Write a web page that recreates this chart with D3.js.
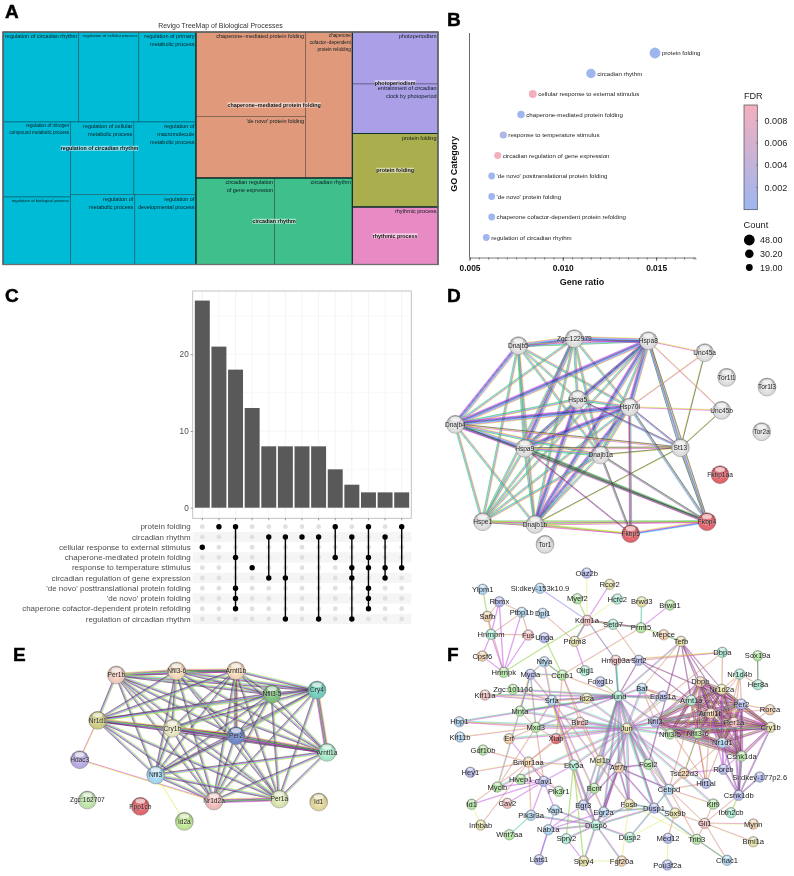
<!DOCTYPE html>
<html><head><meta charset="utf-8">
<script src="https://cdn.jsdelivr.net/npm/d3@7"></script>
<style>
html,body{margin:0;padding:0;background:#fff}
svg{display:block;filter:blur(0.3px)}
text{font-family:"Liberation Sans",Arial,sans-serif}
</style></head><body>
<script>
// ---------- A: treemap ----------
const tmTitle = "Revigo TreeMap of Biological Processes";
const tmLabels = ["regulation of circadian rhythm","regulation of cellular process","regulation of primary\nmetabolic process","regulation of nitrogen\ncompound metabolic process","regulation of biological process","regulation of cellular\nmetabolic process","regulation of\nmacromolecule\nmetabolic process","regulation of\nmetabolic process","regulation of\ndevelopmental process","chaperone\u2212mediated protein folding","'de novo' protein folding","chaperone\ncofactor\u2212dependent\nprotein refolding","circadian regulation\nof gene expression","circadian rhythm","photoperiodism","entrainment of circadian\nclock by photoperiod","protein folding","rhythmic process"];
const tmAreas = [6795,5400,5130,5062,4556,4568,4495,4480,4270,9253,6734,6789,6790,6704,4446,4232,6284,4916];
const tmLeafGroup = [0,0,0,0,0,0,0,0,0,1,1,1,2,2,3,3,4,5];
const tmGroupLabels = ["regulation of circadian rhythm","chaperone\u2212mediated protein folding","circadian rhythm","photoperiodism","protein folding","rhythmic process"];
const tmGroupColors = ["#00BBD6","#E0997B","#3FBF8C","#ABA0E8","#ABAE4D","#E88AC4"];
const tmFontSizes = [5.5,4.3,5.5,4.6,4.2,5.5,5.5,5.5,5.5,5.5,5.5,4.65,5.5,5.5,5.5,5.5,5.5,5.5];
const tmNesting = ["h",["v",["h",0,1,2],["h",["v",3,4],["v",["h",5,6],["h",7,8]]]],["v",["h",["v",9,10],11],["h",12,13]],["v",["v",14,15],16,17]];
// ---------- B: dot plot ----------
const goTerms = ["protein folding","circadian rhythm","cellular response to external stimulus","chaperone-mediated protein folding","response to temperature stimulus","circadian regulation of gene expression","'de novo' posttranslational protein folding","'de novo' protein folding","chaperone cofactor-dependent protein refolding","regulation of circadian rhythm"];
const goRatio = [0.01494,0.01151,0.00839,0.00776,0.00681,0.00651,0.00619,0.00619,0.00619,0.0059];
const goCount = [48,37,26,23,21,20,19,19,19,19];
const goFdr = [0.0001,0.0003,0.0092,0.0002,0.0018,0.0093,0.0002,0.0002,0.0002,0.0003];
const ratioTicks = [0.005,0.010,0.015];
const fdrTicks = [0.002,0.004,0.006,0.008];
const countLegend = [48,30.2,19];
// ---------- C: upset ----------
const upsetSizes = [27,21,18,13,8,8,8,8,5,3,2,2,2];
const upsetSets = ["protein folding","circadian rhythm","cellular response to external stimulus","chaperone-mediated protein folding","response to temperature stimulus","circadian regulation of gene expression","'de novo' posttranslational protein folding","'de novo' protein folding","chaperone cofactor-dependent protein refolding","regulation of circadian rhythm"];
const upsetMembers = [[2],[0],[0,3,6,7,8],[4],[1,5],[1,5,9],[1],[1,9],[0,3],[1,4,5,9],[0,3,4,6,7,8],[1,4,5],[0,4]];
const upsetTicks = [0,10,20];
// ---------- D: network (graph units) ----------
const dNodes = [["Dnajb5",250,182],["Zgc:122979",418,161],["Hspa8",640,167],["Unc45a",809,203],["Tor1l1",875,277],["Tor1l3",996,306],["Hspa5",428,343],["Hsp70l",584,366],["Unc45b",860,376],["Dnajb4",61,418],["Tor2a",980,440],["Hspa9",269,490],["Dnajb1a",497,510],["St13",736,488],["Fkbp1aa",855,569],["Hspe1",143,710],["Dnajb1b",300,718],["Fkbp4",816,710],["Fkbp5",587,746],["Tor1",330,778]];
const dTints = "wwwwwwwwwwwwwwrwwrrw";
const dCore = ["Dnajb5","Zgc:122979","Hspa8","Hspa5","Hsp70l","Dnajb4","Hspa9","Dnajb1a","Hspe1","Dnajb1b"];
const dHeavy = [["Hspa8","Dnajb1b"],["Hspa8","Hspa9"],["Hspa8","Dnajb4"],["Hsp70l","Dnajb1b"],["Hsp70l","Hspa9"],["Hspa8","Zgc:122979"],["Zgc:122979","Hspa9"],["Hspa8","Hsp70l"],["Hspa5","Dnajb1b"],["Dnajb4","Hspa9"],["Hsp70l","Dnajb4"],["Dnajb5","Dnajb4"],["Zgc:122979","Dnajb5"]];
const dOther = [["St13","Hspa8","kcmg"],["St13","Hsp70l","cmk"],["St13","Hspa5","cmk"],["St13","Dnajb4","myk"],["St13","Hspa9","myk"],["St13","Dnajb1a","yk"],["St13","Dnajb1b","yk"],["St13","Unc45a","yk"],["St13","Unc45b","yk"],["St13","Fkbp4","cmgk"],["Fkbp4","Hspa8","cmyk"],["Fkbp4","Hsp70l","cmgk"],["Fkbp4","Hspa9","mgkkg"],["Fkbp4","Dnajb4","mgk"],["Fkbp4","Dnajb1a","mgk"],["Fkbp4","Dnajb1b","myg"],["Fkbp4","Fkbp5","cbmy"],["Fkbp4","Hspe1","myg"],["Fkbp5","Hsp70l","mkmg"],["Fkbp5","Hspa9","mk"],["Fkbp5","Dnajb1a","mgk"],["Fkbp5","Dnajb1b","mgy"],["Fkbp5","Hspe1","my"],["Unc45a","Hspa8","my"],["Unc45a","Hsp70l","my"],["Unc45b","Hspa8","my"],["Unc45b","Hsp70l","my"]];
// ---------- E: network ----------
const eNodes = [["Per1b",349,165],["Nfil3-6",530,153],["Arntl1b",708,152],["Cry4",951,210],["Nfil3-5",816,222],["Nr1d1",293,301],["Cry1b",517,325],["Per2",708,347],["Arntl1a",981,397],["Hdac3",239,419],["Nfil3",467,465],["Nr1d2a",642,543],["Per1a",838,537],["Id1",956,546],["Zgc:162707",262,540],["Ppp1cb",421,559],["Id2a",553,604]];
const eColors = ["#e8c4b8","#eacfb0","#eccfb0","#6fc5b5","#7ab87a","#c6c47f","#dcdcb8","#6f83c0","#9fe0c0","#b3a5dc","#9fcfe8","#e5b5b5","#cfdcaa","#d9d09a","#b8dca5","#d9646a","#b8de90"];
const eCore = ["Per1b","Nfil3-6","Arntl1b","Cry4","Nfil3-5","Nr1d1","Cry1b","Per2","Arntl1a","Nfil3","Nr1d2a","Per1a"];
const eHeavy = [["Per1b","Nfil3-6"],["Nfil3-6","Arntl1b"],["Cry1b","Per2"],["Per2","Arntl1a"],["Nr1d1","Per2"],["Arntl1b","Per2"],["Cry4","Arntl1a"],["Nr1d2a","Per1a"]];
const eOther = [["Hdac3","Nr1d1","my"],["Hdac3","Nr1d2a","my"],["Nfil3","Id2a","y"]];
// ---------- F: network ----------
const fNodes = [["Oaz2b",586.7,573],["Rcor2",609.7,584.3],["Ylpm1",482.7,589.3],["Si:dkey-153k10.9",540,588.3],["Myef2",577.3,598.7],["Hcfc2",617.3,599],["Brwd3",641.7,601.7],["Brwd1",670,605],["Rbmx",499.3,601.7],["Ptbp1b",521.7,612.3],["Dpl1",542.7,613.3],["Safb",487.3,616.3],["Kdm1a",587,620.3],["Setd7",613,624.3],["Prmt5",641,627.7],["Hnrnpm",491,634.3],["Fus",528.3,635],["Unga",544.3,637.7],["Mepce",663.7,634.7],["Prdm8",574.7,641.3],["Tefb",681,641.3],["Cpsf6",482.3,656],["Nfya",544.3,661.7],["Hmgb3a",615.7,660.3],["Sirt2",638.7,660.3],["Dbpa",722.3,652.3],["Sox19a",757.7,655.7],["Hnrnpk",503.7,672.3],["Olig1",585,670.7],["Mycla",530.3,674.3],["Ccnb1",562.3,675],["Nr1d4b",739.7,674],["Foxg1b",600.3,681.7],["Dbpb",700.3,681.7],["Her8a",758,684.7],["Klf11a",485,695],["Zgc:101100",513,689.3],["Baf",642,688.3],["Nr1d2a",721.7,689.3],["Epas1a",663,696],["Srfa",551.7,700.3],["Id2a",586.7,698.3],["Jund",618.3,696],["Arnt1a",691.3,700.3],["Per2",741.3,704],["Rorca",770,709.7],["Mnta",520,711],["Arntl1b",710.7,713.3],["Hbp1",459.3,721.7],["Birc2",580,722.3],["Nfil3",655,721.7],["Per1a",734,722.3],["Mxd3",535.7,727.3],["Jun",626.7,728.3],["Cry1b",770.7,727.3],["Nfil3-5",670,734],["Nfil3-6",697.7,733.3],["Klf11b",460,737],["Erf",509,738.7],["Xiap",556,738.7],["Nr1d1",722.3,742.7],["Gdf10b",483,750],["Csnk1da",741.7,756],["Mcl1b",600,760.7],["Bmpr1aa",528.3,762],["Fosl2",648.3,764.3],["Etv5a",573.7,765],["Atf7b",618.7,767.7],["Rorcb",723.3,769.3],["Hey1",470.3,772.3],["Tsc22d3",684,773],["Si:dkey-177p2.6",759.7,777],["Hivep1",520.7,779.3],["Cav1",543.7,781.3],["Hif1al",706,783.3],["Myclb",497.3,787],["Bcnf",594.3,788.3],["Cebpd",669,789.3],["Pik3r1",558.7,791.3],["Csnk1db",738.7,795.3],["Cav2",507.3,803.3],["Id1",471.7,804.3],["Egr3",583.3,805],["Fosb",629,804],["Klf9",713.3,804],["Dusp1",654,808],["Yap1",555,810],["Egr2a",603.7,812],["Sox9b",675,813],["Ibtn2cb",731,812.7],["Pik3r3a",531,815.3],["Gli1",704.7,823.3],["Mynn",753.3,824],["Inhbab",480.7,825],["Dusp6",596,825],["Nab1a",548.3,829.7],["Wnt7aa",509.3,834.7],["Spry2",566.3,838.7],["Dusp2",629.7,837.3],["Med12",668,838.3],["Trib3",696.7,839.3],["Bmi1a",753.3,841.7],["Lats1",539,859.7],["Spry4",583.7,861],["Fgf20a",621.7,861],["Chac1",727,860.3],["Pou3f2a",667.3,865]];
const fTints = ["iybbgtygib","boptgtpioy","yobpitggti","gtiotpgbyi","byttiogobp","ipgyyggbor","bggyogtoii","oigiiggbgi","pgiygibbyt","bpoytbgtti","gyiyobi"].join("");
const fCliques = [["Arnt1a","Arntl1b","Per2","Per1a","Cry1b","Nr1d1","Nr1d2a","Nfil3","Nfil3-5","Nfil3-6","Dbpb","Csnk1da"]];
const fHubs = [
["Jun","mpyc",["Jund","Fosl2","Fosb","Atf7b","Egr3","Egr2a","Dusp1","Mcl1b","Cebpd","Bcnf","Srfa","Id2a","Birc2","Xiap","Erf","Mxd3","Mnta","Hbp1","Arnt1a","Nfil3","Per2","Cry1b","Nr1d1","Epas1a","Baf","Etv5a","Sox9b","Hif1al","Klf9","Myclb"]],
["Jund","mpg",["Fosl2","Fosb","Atf7b","Egr3","Egr2a","Srfa","Id2a","Baf","Epas1a","Arnt1a","Nfil3","Hmgb3a","Tefb","Mnta","Hbp1","Klf11a","Zgc:101100","Bcnf","Mcl1b","Cebpd","Dusp1","Mxd3"]],
["Atf7b","mkp",["Fosl2","Fosb","Egr2a","Egr3","Mcl1b","Dusp1","Cebpd","Dusp6"]],
["Baf","my",["Nfil3","Tefb","Epas1a","Arnt1a","Arntl1b","Hif1al"]],
["Srfa","mpy",["Fosb","Egr3","Egr2a","Dusp6","Nfya","Mycla","Klf11a","Id2a","Etv5a","Zgc:101100","Mxd3"]],
["Mycla","cmy",["Nfya","Mnta","Mxd3","Myclb","Ccnb1"]],
["Mxd3","my",["Mnta","Hbp1","Erf","Myclb","Cav1","Xiap","Klf11b"]],
["Bmpr1aa","my",["Hey1","Id1","Inhbab","Cav1","Pik3r1","Pik3r3a","Etv5a","Xiap","Birc2","Gdf10b"]],
["Cav1","mp",["Id1","Myclb","Cav2","Pik3r1","Pik3r3a","Yap1","Hivep1","Erf","Etv5a"]],
["Dusp6","mpg",["Dusp1","Dusp2","Spry2","Spry4","Egr3","Egr2a","Nab1a","Etv5a","Fosb","Pik3r3a","Yap1","Fgf20a"]],
["Dusp1","cmg",["Dusp2","Fosb","Egr2a","Cebpd","Sox9b","Trib3"]],
["Cebpd","my",["Klf9","Gli1","Hif1al","Tsc22d3","Fosl2","Trib3","Dbpb","Nr1d1"]],
["Gli1","my",["Mynn","Bmi1a","Klf9","Sox9b","Chac1","Trib3","Csnk1db"]],
["Tefb","mk",["Dbpb","Nr1d2a","Arntl1b","Arnt1a","Per1a","Fosl2"]],
["Sirt2","mk",["Arnt1a","Per2","Hmgb3a","Jund"]],
["Ccnb1","my",["Mcl1b","Birc2","Xiap","Prmt5","Jund"]],
["Csnk1db","mpk",["Csnk1da","Per2","Per1a","Nr1d1","Cry1b","Si:dkey-177p2.6","Rorcb"]],
["Rorcb","mp",["Per2","Arntl1b","Nr1d1","Nr1d2a","Cry1b","Tsc22d3"]],
["Nr1d4b","my",["Her8a","Per2","Nr1d2a","Arntl1b","Nr1d1","Per1a"]],
["Rorca","my",["Per2","Arntl1b","Nr1d1"]],
["Hif1al","my",["Arntl1b","Arnt1a","Nr1d1","Nfil3-6"]],
["Dbpa","my",["Jun","Hmgb3a","Nr1d2a","Sirt2"]]
];
const fPairs = [["Ylpm1","Safb","gy"],["Rbmx","Safb","my"],["Rbmx","Ptbp1b","my"],["Rbmx","Hnrnpm","pm"],["Rbmx","Hnrnpk","pm"],["Ptbp1b","Hnrnpm","my"],["Ptbp1b","Fus","my"],["Ptbp1b","Hnrnpk","pm"],["Safb","Hnrnpm","my"],["Safb","Hnrnpk","my"],["Hnrnpm","Fus","my"],["Hnrnpm","Cpsf6","pm"],["Hnrnpm","Hnrnpk","pm"],["Fus","Hnrnpk","pm"],["Cpsf6","Hnrnpk","pm"],["Hnrnpk","Kdm1a","gy"],["Oaz2b","Kdm1a","y"],["Rcor2","Kdm1a","pm"],["Si:dkey-153k10.9","Kdm1a","cm"],["Myef2","Kdm1a","gy"],["Hcfc2","Kdm1a","y"],["Kdm1a","Setd7","kmg"],["Kdm1a","Prmt5","my"],["Kdm1a","Prdm8","mkg"],["Setd7","Prdm8","my"],["Setd7","Prmt5","kmg"],["Brwd3","Prmt5","cg"],["Brwd1","Prmt5","pm"],["Prmt5","Mepce","gy"],["Mepce","Tefb","kg"],["Dpl1","Prdm8","my"],["Prdm8","Olig1","pm"],["Unga","Ccnb1","gy"],["Nfya","Ccnb1","gk"],["Kdm1a","Hmgb3a","kp"],["Setd7","Sirt2","my"],["Hmgb3a","Jund","cg"],["Sox19a","Her8a","gk"],["Spry2","Spry4","mp"],["Spry4","Fgf20a","y"],["Spry4","Etv5a","gy"],["Spry2","Etv5a","gy"],["Lats1","Nab1a","mp"],["Nab1a","Egr3","mp"],["Nab1a","Egr2a","mp"],["Wnt7aa","Pik3r3a","cg"],["Yap1","Lats1","cm"],["Id1","Inhbab","y"],["Trib3","Chac1","gk"],["Med12","Pou3f2a","y"],["Med12","Sox9b","my"],["Foxg1b","Jund","gy"],["Birc2","Xiap","my"],["Birc2","Mcl1b","my"],["Trib3","Fosb","y"],["Tsc22d3","Nfil3-6","yk"],["Ibtn2cb","Csnk1db","gy"],["Fgf20a","Fosb","y"],["Dusp2","Sox9b","y"]];

const channelColors = {c:"#2fd0ea",m:"#d92fd9",y:"#cfe22a",g:"#2fb545",b:"#2a2aee",k:"#333",p:"#a07ee6"};
const tintColors = {w:"#d6d6d6",r:"#d9626a",b:"#a3c8e6",i:"#a6ade2",g:"#a8dc98",t:"#a0e0c6",y:"#d9d498",o:"#e6c4a0",p:"#e8b2b2"};

const svg = d3.select("body").append("svg").attr("width",794).attr("height",876);
const defs = svg.append("defs");

// panel letters
[["A",5,18],["B",447,25.5],["C",5,302],["D",447,302],["E",13,661],["F",447,661]].forEach(([t,x,y])=>
  svg.append("text").attr("x",x).attr("y",y).attr("font-size",19).attr("font-weight",700).attr("fill","#000").attr("stroke","#000").attr("stroke-width",.45).text(t));

// ---- A
(function(){
  const tmW=435,tmH=232.5;
  const g=svg.append("g").attr("transform","translate(3,32)");
  const build=s=>typeof s==="number"?{leaf:s,value:tmAreas[s]}:{dir:s[0],children:s.slice(1).map(build)};
  const root=d3.hierarchy(build(tmNesting)).sum(d=>d.value||0);
  d3.treemap().size([tmW,tmH]).tile((n,a,b,c,d)=>(n.data.dir==="h"?d3.treemapDice:d3.treemapSlice)(n,a,b,c,d))(root);
  const leaves=root.leaves();
  g.selectAll("rect.cell").data(leaves).join("rect").attr("class","cell")
    .attr("x",d=>d.x0).attr("y",d=>d.y0).attr("width",d=>d.x1-d.x0).attr("height",d=>d.y1-d.y0)
    .attr("fill",d=>tmGroupColors[tmLeafGroup[d.data.leaf]])
    .attr("stroke","#000").attr("stroke-opacity",.42).attr("stroke-width",.7);
  const groups=d3.rollups(leaves,v=>({x0:d3.min(v,d=>d.x0),x1:d3.max(v,d=>d.x1),y0:d3.min(v,d=>d.y0),y1:d3.max(v,d=>d.y1)}),d=>tmLeafGroup[d.data.leaf]);
  groups.forEach(([i,b])=>g.append("rect").attr("x",b.x0).attr("y",b.y0).attr("width",b.x1-b.x0).attr("height",b.y1-b.y0)
    .attr("fill","none").attr("stroke","#0b3030").attr("stroke-width",.9));
  g.append("rect").attr("width",tmW).attr("height",tmH).attr("fill","none").attr("stroke","#6e6e6e").attr("stroke-width",1.3);
  leaves.forEach(d=>{
    const i=d.data.leaf,fs=tmFontSizes[i],lh=fs*1.45;
    tmLabels[i].split("\n").forEach((l,k)=>g.append("text").attr("x",d.x1-1.5).attr("y",d.y0+fs+.6+k*lh)
      .attr("text-anchor","end").attr("font-size",fs).attr("fill","#0c1c20").text(l));
  });
  groups.forEach(([i,b])=>{
    const t=g.append("text").attr("x",(b.x0+b.x1)/2).attr("y",(b.y0+b.y1)/2+1.9).attr("text-anchor","middle")
      .attr("font-size",5.4).attr("font-weight",700).attr("fill","#111").text(tmGroupLabels[i]);
    const bb=t.node().getBBox();
    g.insert("rect","text").attr("x",bb.x).attr("y",bb.y+.6).attr("width",bb.width).attr("height",bb.height-1)
      .attr("fill","#fff").attr("fill-opacity",.55);
    g.node().appendChild(t.node());
  });
  svg.append("text").attr("x",220.5).attr("y",28).attr("text-anchor","middle").attr("font-size",6.95).attr("fill","#333").text(tmTitle);
})();

// ---- B
(function(){
  const x=d3.scaleLinear().domain([0.005,0.0171]).range([469.5,695.3]);
  const y=d3.scalePoint().domain(goTerms).range([53,237.5]);
  const r=d3.scaleSqrt().domain([0,48]).range([0,5.4]);
  const c=d3.scaleLinear().domain([0,0.0094]).range(["#9db6f1","#f5afbc"]);
  const g=svg.append("g");
  g.append("line").attr("x1",469.5).attr("x2",469.5).attr("y1",33).attr("y2",257.5).attr("stroke","#444").attr("stroke-width",.8);
  const minor=d3.axisBottom(x).tickValues(d3.range(0.005,0.01701,0.0005)).tickSize(2).tickFormat("");
  g.append("g").attr("transform","translate(0,257.5)").call(minor).call(a=>a.selectAll("path,line").attr("stroke","#444").attr("stroke-width",.7));
  const major=d3.axisBottom(x).tickValues(ratioTicks).tickSize(3.5).tickPadding(4).tickFormat(d3.format(".3f"));
  g.append("g").attr("transform","translate(0,257.5)").call(major).call(a=>{
    a.select("path").remove();a.selectAll("line").attr("stroke","#444").attr("stroke-width",.7);
    a.selectAll("text").attr("font-size",8.4).attr("font-weight",700).attr("fill","#111").attr("font-family","Liberation Sans");});
  g.append("text").attr("x",582).attr("y",285).attr("text-anchor","middle").attr("font-size",9).attr("font-weight",700).attr("fill","#111").text("Gene ratio");
  g.append("text").attr("transform","translate(456.5,164) rotate(-90)").attr("text-anchor","middle").attr("font-size",9).attr("font-weight",700).attr("fill","#111").text("GO Category");
  g.selectAll("circle.dot").data(goTerms).join("circle").attr("class","dot")
    .attr("cx",(d,i)=>x(goRatio[i])).attr("cy",d=>y(d)).attr("r",(d,i)=>r(goCount[i])).attr("fill",(d,i)=>c(goFdr[i]));
  g.selectAll("text.dl").data(goTerms).join("text").attr("class","dl")
    .attr("x",(d,i)=>x(goRatio[i])+r(goCount[i])+1.5).attr("y",d=>y(d)+2).attr("font-size",6.15).attr("fill","#222").text(d=>d);
  // FDR legend
  const grad=defs.append("linearGradient").attr("id","fdr").attr("x1",0).attr("x2",0).attr("y1",1).attr("y2",0);
  grad.append("stop").attr("offset",0).attr("stop-color",c(0));
  grad.append("stop").attr("offset",1).attr("stop-color",c(0.0094));
  const ly=d3.scaleLinear().domain([0,0.0094]).range([209.7,105]);
  g.append("rect").attr("x",744).attr("y",105).attr("width",13.3).attr("height",104.7).attr("fill","url(#fdr)").attr("stroke","#4a4a5a").attr("stroke-width",.7);
  g.selectAll("line.ft").data(fdrTicks).join("line").attr("class","ft").attr("x1",756).attr("x2",757.5).attr("y1",d=>ly(d)).attr("y2",d=>ly(d)).attr("stroke","#444").attr("stroke-width",.5);
  g.selectAll("text.fl").data(fdrTicks).join("text").attr("class","fl").attr("x",764.5).attr("y",d=>ly(d)+3.2).attr("font-size",9.1).attr("fill","#222").text(d=>d3.format(".3f")(d));
  g.append("text").attr("x",744).attr("y",98.5).attr("font-size",9.1).attr("fill","#222").text("FDR");
  g.append("text").attr("x",743.5).attr("y",228).attr("font-size",9.3).attr("fill","#222").text("Count");
  const cy=d3.scalePoint().domain(countLegend).range([240,267.5]);
  g.selectAll("circle.cl").data(countLegend).join("circle").attr("class","cl").attr("cx",749.3).attr("cy",d=>cy(d)).attr("r",d=>r(d)).attr("fill","#000");
  g.selectAll("text.cl").data(countLegend).join("text").attr("class","cl").attr("x",760).attr("y",d=>cy(d)+3.2).attr("font-size",9).attr("fill","#222").text(d=>d3.format(".2f")(d));
})();

// ---- C
(function(){
  const cols=upsetSizes.map((d,i)=>i);
  const x=d3.scaleBand().domain(cols).range([194.0,410.0]).paddingInner(.1).paddingOuter(.05);
  const y=d3.scaleLinear().domain([0,28.25]).range([507.7,291]);
  const g=svg.append("g");
  const L=192.7,R=411.3,T=291,B=518.3;
  const cx=i=>x(i)+x.bandwidth()/2;
  g.selectAll("line.gy").data([5,10,15,20,25]).join("line").attr("x1",L).attr("x2",R).attr("y1",d=>y(d)).attr("y2",d=>y(d)).attr("stroke","#efefef").attr("stroke-width",d=>d%10?0.35:0.7);
  g.append("line").attr("x1",L).attr("x2",R).attr("y1",y(0)).attr("y2",y(0)).attr("stroke","#efefef").attr("stroke-width",.7);
  g.selectAll("line.gx").data(cols).join("line").attr("x1",d=>cx(d)).attr("x2",d=>cx(d)).attr("y1",T).attr("y2",B).attr("stroke","#efefef").attr("stroke-width",.7);
  g.selectAll("rect.bar").data(upsetSizes).join("rect").attr("class","bar")
    .attr("x",(d,i)=>x(i)).attr("width",x.bandwidth()).attr("y",d=>y(d)).attr("height",d=>y(0)-y(d)).attr("fill","#595959");
  g.append("rect").attr("x",L).attr("y",T).attr("width",R-L).attr("height",B-T).attr("fill","none").attr("stroke","#bdbdbd").attr("stroke-width",.9);
  const ax=d3.axisLeft(y).tickValues(upsetTicks).tickSize(2).tickPadding(2).tickFormat(d3.format("d"));
  g.append("g").attr("transform",`translate(${L},0)`).call(ax).call(a=>{a.select("path").remove();a.selectAll("line").attr("stroke","#555").attr("stroke-width",.6);
    a.selectAll("text").attr("font-size",8.2).attr("fill","#4d4d4d").attr("font-family","Liberation Sans");});
  g.selectAll("line.bt").data(cols).join("line").attr("x1",d=>cx(d)).attr("x2",d=>cx(d)).attr("y1",B).attr("y2",B+2).attr("stroke","#555").attr("stroke-width",.6);
  const my=d3.scalePoint().domain(upsetSets).range([526.7,619]);
  g.selectAll("rect.st").data(upsetSets.filter((d,i)=>i%2)).join("rect").attr("x",L).attr("width",R-L).attr("y",d=>my(d)-5.1).attr("height",10.2).attr("fill","#f5f5f5");
  g.selectAll("text.sl").data(upsetSets).join("text").attr("class","sl").attr("x",190.7).attr("y",d=>my(d)+2.7).attr("text-anchor","end").attr("font-size",8).attr("fill","#4d4d4d").text(d=>d);
  cols.forEach(c=>upsetSets.forEach((s,j)=>{
    g.append("circle").attr("cx",cx(c)).attr("cy",my(s)).attr("r",2.4).attr("fill","#e0e0e0");
  }));
  upsetMembers.forEach((m,c)=>{
    if(m.length>1) g.append("line").attr("x1",cx(c)).attr("x2",cx(c)).attr("y1",my(upsetSets[d3.min(m)])).attr("y2",my(upsetSets[d3.max(m)])).attr("stroke","#000").attr("stroke-width",1.4);
    m.forEach(j=>g.append("circle").attr("cx",cx(c)).attr("cy",my(upsetSets[j])).attr("r",2.7).attr("fill","#000"));
  });
})();

// ---- networks
let gradN=0;
function sphere(color){
  const id="s"+(gradN++),base=d3.color(color);
  const rg=defs.append("radialGradient").attr("id",id).attr("cx",.5).attr("cy",.6).attr("r",.58);
  rg.append("stop").attr("offset",0).attr("stop-color",base.brighter(.3));
  rg.append("stop").attr("offset",.7).attr("stop-color",base);
  rg.append("stop").attr("offset",1).attr("stop-color",base.darker(1));
  return id;
}
function network(nodes,colors,edges,opt){
  const g=svg.append("g");
  const x=d3.scaleLinear().domain(opt.xd).range(opt.xr), y=d3.scaleLinear().domain(opt.yd).range(opt.yr);
  const pos=new Map(nodes.map(n=>[n[0],[x(n[1]),y(n[2])]]));
  edges.forEach(([a,b,ch])=>{
    const p=pos.get(a),q=pos.get(b); if(!p||!q) return;
    const dx=q[0]-p[0],dy=q[1]-p[1],l=Math.hypot(dx,dy)||1,nx=-dy/l,ny=dx/l,n=ch.length;
    [...ch].forEach((c,k)=>{
      const o=(k-(n-1)/2)*opt.gap;
      g.append("line").attr("x1",p[0]+nx*o).attr("y1",p[1]+ny*o).attr("x2",q[0]+nx*o).attr("y2",q[1]+ny*o)
        .attr("stroke",channelColors[c]).attr("stroke-width",opt.sw).attr("stroke-opacity",opt.op);
    });
  });
  const cache={};
  nodes.forEach((n,i)=>{
    const [cx,cy]=pos.get(n[0]),col=colors[i],R=opt.r;
    const id=cache[col]||(cache[col]=sphere(col));
    g.append("circle").attr("cx",cx).attr("cy",cy).attr("r",R).attr("fill",`url(#${id})`).attr("stroke","#777").attr("stroke-width",.4);
    g.append("ellipse").attr("cx",cx).attr("cy",cy-R*.58).attr("rx",R*.55).attr("ry",R*.28).attr("fill","#fff").attr("fill-opacity",.65);
  });
  nodes.forEach(n=>{
    const [cx,cy]=pos.get(n[0]);
    g.append("text").attr("x",cx).attr("y",cy+opt.fs*.35).attr("text-anchor","middle").attr("font-size",opt.fs).attr("fill","#222")
      .attr("stroke","#fff").attr("stroke-width",.8).attr("stroke-opacity",.3).attr("paint-order","stroke").text(n[0]);
  });
}
const pairs=a=>d3.merge(a.map((u,i)=>a.slice(i+1).map(v=>[u,v])));
// D
(function(){
  const heavy=new Set(dHeavy.map(p=>p.join("|")));
  const edges=pairs(dCore).map(([a,b])=>[a,b,(heavy.has(a+"|"+b)||heavy.has(b+"|"+a))?"ymcbkbm":"ymcg"]).concat(dOther);
  network(dNodes,[...dTints].map(t=>tintColors[t]),edges,{xd:[0,1077],xr:[435,794],yd:[0,810],yr:[285,555],gap:.72,sw:.6,op:.95,r:9,fs:6.6});
})();
// E
(function(){
  const heavy=new Set(eHeavy.map(p=>p.join("|")));
  const edges=pairs(eCore).map(([a,b])=>[a,b,(heavy.has(a+"|"+b)||heavy.has(b+"|"+a))?"ymkgkm":"ycmk"]).concat(eOther);
  network(eNodes,eColors,edges,{xd:[0,1080],xr:[0,360],yd:[0,720],yr:[620,860],gap:.7,sw:.6,op:.95,r:9,fs:6.6});
})();
// F
(function(){
  const edges=[];
  fCliques.forEach(c=>pairs(c).forEach(([a,b])=>edges.push([a,b,"mkmyk"])));
  fHubs.forEach(([h,ch,list])=>list.forEach(t=>edges.push([h,t,ch])));
  fPairs.forEach(e=>edges.push(e));
  network(fNodes,[...fTints].map(t=>tintColors[t]||tintColors.b),edges,{xd:[430,794],xr:[430,794],yd:[555,876],yr:[555,876],gap:.55,sw:.48,op:.85,r:5.3,fs:7.6});
})();
</script>
</body></html>
